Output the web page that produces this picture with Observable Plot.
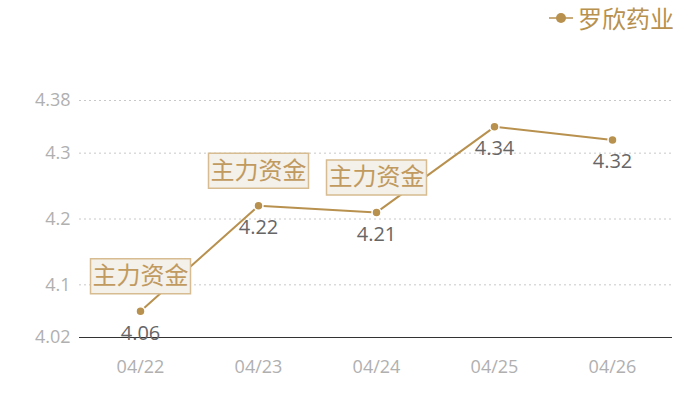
<!DOCTYPE html>
<html><head><meta charset="utf-8">
<script src="https://cdn.jsdelivr.net/npm/d3@7"></script>
<script src="https://cdn.jsdelivr.net/npm/@observablehq/plot@0.6"></script>
<style>
body{margin:0;background:#fff;font-family:"Open Sans","Noto Sans CJK SC",sans-serif;}
#legend{height:40px;position:relative;}
#legend .item{position:absolute;left:549px;top:0px;display:flex;align-items:center;color:#b8914f;font-size:24px;font-family:"Noto Sans CJK SC",sans-serif;}
#legend svg{margin-right:5px;}
</style></head>
<body>
<div id="legend"><div class="item"><svg width="24" height="12"><line x1="0" x2="24" y1="6" y2="6" stroke="#b8914f" stroke-width="1.5"/><circle cx="12" cy="6" r="5" fill="#b8914f"/></svg><span id="lgname"></span></div></div>
<div id="chart"></div>
<script>
const seriesName = "罗欣药业";
const dates = ["04/22","04/23","04/24","04/25","04/26"];
const prices = [4.06, 4.22, 4.21, 4.34, 4.32];
const yTicks = [4.02, 4.1, 4.2, 4.3, 4.38];
const annotatedDates = ["04/22","04/23","04/24"];
const annotationText = "主力资金";

document.getElementById("lgname").textContent = seriesName;
const data = dates.map((d,i)=>({date:d, price:prices[i]}));
const ann = data.filter(d=>annotatedDates.includes(d.date));
const gold = "#b8914f";
const boxSymbol = {draw(ctx){ ctx.moveTo(-50,-17.5); ctx.lineTo(50,-17.5); ctx.lineTo(50,17.5); ctx.lineTo(-50,17.5); ctx.closePath(); }};
const numFont = '"Open Sans","Noto Sans CJK SC",sans-serif';

const chart = Plot.plot({
  width:700, height:360,
  marginLeft:79, marginRight:28, marginTop:60, marginBottom:63,
  style:{fontFamily:numFont, background:"#fff"},
  x:{type:"band", domain:dates, padding:0},
  y:{domain:[4.02,4.38]},
  marks:[
    Plot.ruleY(yTicks.filter(t=>t>4.02), {stroke:"#c8c8c8", strokeDasharray:"2,3", strokeWidth:1}),
    Plot.ruleY([4.02], {stroke:"#333", strokeWidth:1}),
    Plot.axisY({ticks:yTicks, tickSize:0, tickPadding:9, tickFormat:d=>String(d), fontSize:18, fill:"#b0b0b0", label:null}),
    Plot.axisX({tickSize:0, tickPadding:23, fontSize:18, fill:"#b0b0b0", label:null}),
    Plot.line(data, {x:"date", y:"price", stroke:gold, strokeWidth:2}),
    Plot.dot(ann, {x:"date", y:"price", dy:-35, symbol:boxSymbol, r:5, fill:"#f4f0ea", stroke:"#d6bc90", strokeWidth:1.5}),
    Plot.text(ann, {x:"date", y:"price", dy:-35, text:()=>annotationText, fill:"#c09a5e", fontSize:24, fontFamily:'"Noto Sans CJK SC",sans-serif'}),
    Plot.dot(data, {x:"date", y:"price", r:4.5, fill:gold, stroke:"#fff", strokeWidth:1.5}),
    Plot.text(data, {x:"date", y:"price", dy:22, text:d=>String(d.price), fill:"#666", fontSize:20})
  ]
});
document.getElementById("chart").appendChild(chart);
</script>
</body></html>
